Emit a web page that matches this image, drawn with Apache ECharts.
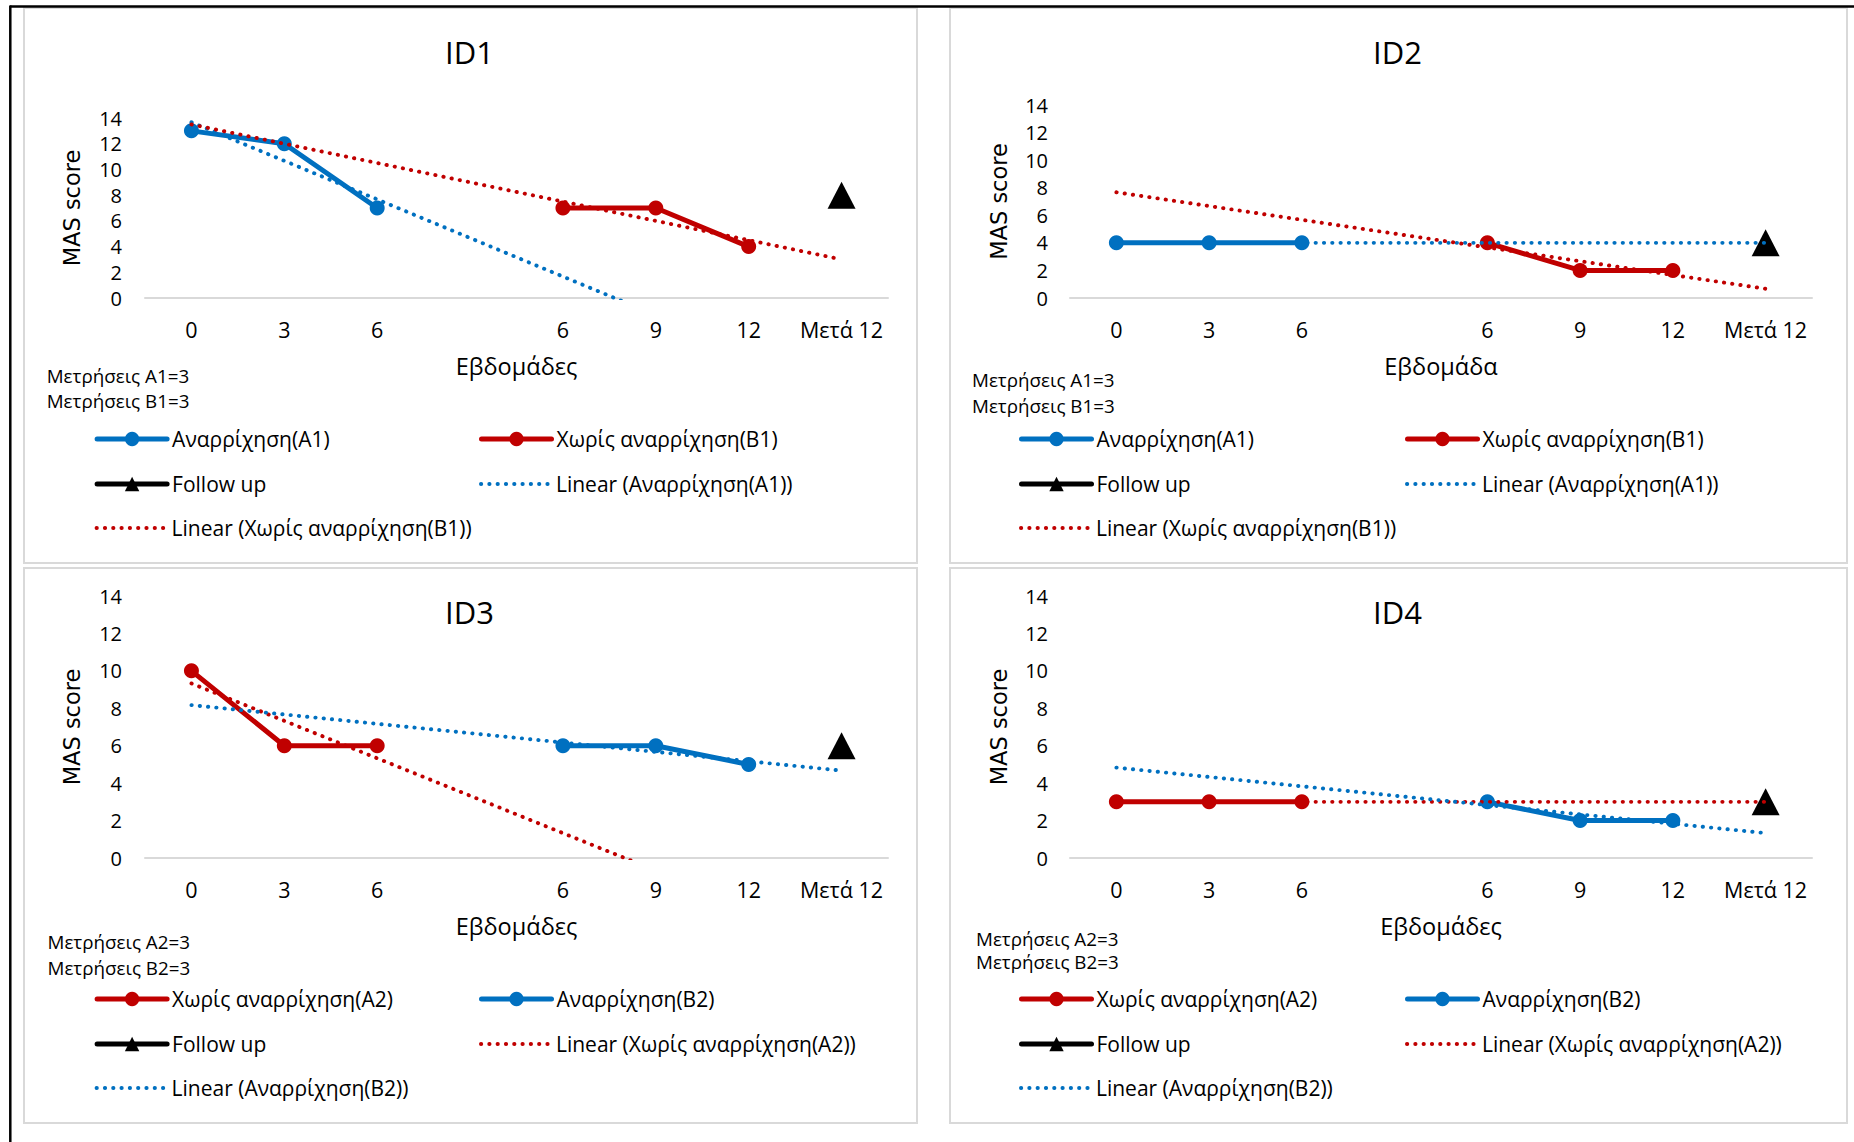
<!DOCTYPE html>
<html><head><meta charset="utf-8">
<script src="https://cdn.jsdelivr.net/npm/echarts@6/dist/echarts.min.js"></script>
<style>html,body{margin:0;padding:0;background:#fff}#c{width:1854px;height:1142px}</style>
</head><body><div id="c"></div><script>
// ---------- data ----------
const categories = ['0', '3', '6', '', '6', '9', '12', 'Μετά 12'];
const yMin = 0, yMax = 14, yInterval = 2;

// ID1
const id1A1 = [13, 12, 7, null, null, null, null, null];
const id1B1 = [null, null, null, null, 7, 7, 4, null];
const id1Follow = [null, null, null, null, null, null, null, 8];
const id1TrendA1 = [13.67, -7.33];   // trendline value at first / last category
const id1TrendB1 = [13.5, 3];

// ID2
const id2A1 = [4, 4, 4, null, null, null, null, null];
const id2B1 = [null, null, null, null, 4, 2, 2, null];
const id2Follow = [null, null, null, null, null, null, null, 4];
const id2TrendA1 = [4, 4];
const id2TrendB1 = [7.67, 0.67];

// ID3
const id3A2 = [10, 6, 6, null, null, null, null, null];
const id3B2 = [null, null, null, null, 6, 6, 5, null];
const id3Follow = [null, null, null, null, null, null, null, 6];
const id3TrendA2 = [9.33, -4.67];
const id3TrendB2 = [8.17, 4.67];

// ID4
const id4A2 = [3, 3, 3, null, null, null, null, null];
const id4B2 = [null, null, null, null, 3, 2, 2, null];
const id4Follow = [null, null, null, null, null, null, null, 3];
const id4TrendA2 = [3, 3];
const id4TrendB2 = [4.83, 1.33];

const titles = ['ID1', 'ID2', 'ID3', 'ID4'];
const xNames = ['Εβδομάδες', 'Εβδομάδα', 'Εβδομάδες', 'Εβδομάδες'];
const notes = [
  ['Μετρήσεις A1=3', 'Μετρήσεις B1=3'],
  ['Μετρήσεις A1=3', 'Μετρήσεις B1=3'],
  ['Μετρήσεις A2=3', 'Μετρήσεις B2=3'],
  ['Μετρήσεις A2=3', 'Μετρήσεις B2=3']
];

// ---------- styling / layout ----------
const BLUE = '#0070C0', RED = '#C00000', BLACK = '#000000';
const FONT = '"Open Sans", sans-serif';
const FONT_Y = '"DejaVu Sans", sans-serif';
const SOLID_W = 5, DOT_W = 3.9, DOT_DASH = [0.3, 8];

const panels = [
  { x: 24,  y: 8,   w: 893, h: 555, gl: 145,  gr: 888,  gt: 118, gb: 298, nameGap: 62 },
  { x: 950, y: 8,   w: 897, h: 555, gl: 1070, gr: 1812, gt: 105, gb: 298, nameGap: 60 },
  { x: 24,  y: 568, w: 893, h: 555, gl: 145,  gr: 888,  gt: 596, gb: 858, nameGap: 62 },
  { x: 950, y: 568, w: 897, h: 555, gl: 1070, gr: 1812, gt: 596, gb: 858, nameGap: 60 }
];
const W = 1854, H = 1142;

function ends(v) { return [v[0], null, null, null, null, null, null, v[1]]; }

function solid(name, data, color, i) {
  return { type: 'line', name, data, xAxisIndex: i, yAxisIndex: i, symbol: 'circle', symbolSize: 15,
    itemStyle: { color }, lineStyle: { color, width: SOLID_W }, connectNulls: false, z: 2, animation: false };
}
function follow(data, i) {
  return { type: 'line', name: 'Follow up', data, xAxisIndex: i, yAxisIndex: i, symbol: 'triangle',
    symbolSize: [28, 27], itemStyle: { color: BLACK }, lineStyle: { color: BLACK, width: SOLID_W }, z: 2, animation: false };
}
function trend(name, v, color, i) {
  return { type: 'line', name, data: ends(v), xAxisIndex: i, yAxisIndex: i, symbol: 'none', connectNulls: true,
    lineStyle: { color, width: DOT_W, type: DOT_DASH, cap: 'round' }, z: 3, clip: true, animation: false };
}

const series = [
  solid('Αναρρίχηση(A1)', id1A1, BLUE, 0),
  solid('Χωρίς αναρρίχηση(B1)', id1B1, RED, 0),
  follow(id1Follow, 0),
  trend('Linear (Αναρρίχηση(A1))', id1TrendA1, BLUE, 0),
  trend('Linear (Χωρίς αναρρίχηση(B1))', id1TrendB1, RED, 0),

  solid('Αναρρίχηση(A1)', id2A1, BLUE, 1),
  solid('Χωρίς αναρρίχηση(B1)', id2B1, RED, 1),
  follow(id2Follow, 1),
  trend('Linear (Αναρρίχηση(A1))', id2TrendA1, BLUE, 1),
  trend('Linear (Χωρίς αναρρίχηση(B1))', id2TrendB1, RED, 1),

  solid('Χωρίς αναρρίχηση(A2)', id3A2, RED, 2),
  solid('Αναρρίχηση(B2)', id3B2, BLUE, 2),
  follow(id3Follow, 2),
  trend('Linear (Χωρίς αναρρίχηση(A2))', id3TrendA2, RED, 2),
  trend('Linear (Αναρρίχηση(B2))', id3TrendB2, BLUE, 2),

  solid('Χωρίς αναρρίχηση(A2)', id4A2, RED, 3),
  solid('Αναρρίχηση(B2)', id4B2, BLUE, 3),
  follow(id4Follow, 3),
  trend('Linear (Χωρίς αναρρίχηση(A2))', id4TrendA2, RED, 3),
  trend('Linear (Αναρρίχηση(B2))', id4TrendB2, BLUE, 3)
];

const legendNames = [
  ['Αναρρίχηση(A1)', 'Χωρίς αναρρίχηση(B1)', 'Follow up', 'Linear (Αναρρίχηση(A1))', 'Linear (Χωρίς αναρρίχηση(B1))'],
  ['Αναρρίχηση(A1)', 'Χωρίς αναρρίχηση(B1)', 'Follow up', 'Linear (Αναρρίχηση(A1))', 'Linear (Χωρίς αναρρίχηση(B1))'],
  ['Χωρίς αναρρίχηση(A2)', 'Αναρρίχηση(B2)', 'Follow up', 'Linear (Χωρίς αναρρίχηση(A2))', 'Linear (Αναρρίχηση(B2))'],
  ['Χωρίς αναρρίχηση(A2)', 'Αναρρίχηση(B2)', 'Follow up', 'Linear (Χωρίς αναρρίχηση(A2))', 'Linear (Αναρρίχηση(B2))']
];
const legCol = [[70.6, 455], [69, 455], [70.6, 455], [69, 455]];
const legRow = [431, 476, 520];
const legSlots = [[0, 0], [1, 0], [0, 1], [1, 1], [0, 2]]; // [col,row]

const grids = [], xAxes = [], yAxes = [], legends = [], graphics = [];
panels.forEach((p, i) => {
  grids.push({ left: p.gl, top: p.gt, width: p.gr - p.gl, height: p.gb - p.gt, containLabel: false });
  xAxes.push({
    type: 'category', gridIndex: i, data: categories, boundaryGap: true,
    axisLine: { show: true, lineStyle: { color: '#d9d9d9', width: 2 } },
    axisTick: { show: false }, splitLine: { show: false },
    axisLabel: { interval: 0, margin: 20, fontSize: 21.5, fontFamily: FONT, color: '#000' },
    name: xNames[i], nameLocation: 'middle', nameGap: 56,
    nameTextStyle: { fontSize: 23.5, fontFamily: FONT, color: '#000' }
  });
  yAxes.push({
    type: 'value', gridIndex: i, min: yMin, max: yMax, interval: yInterval,
    axisLine: { show: false }, axisTick: { show: false }, splitLine: { show: false },
    axisLabel: { margin: i % 2 === 0 ? 23 : 22, fontSize: 20, fontFamily: FONT, color: '#000' },
    name: 'MAS score', nameLocation: 'middle', nameGap: p.nameGap,
    nameTextStyle: { fontSize: 22.5, fontFamily: FONT_Y, color: '#000' }
  });
  legendNames[i].forEach((nm, k) => {
    const [c, r] = legSlots[k];
    const isTrend = nm.indexOf('Linear') === 0;
    legends.push({
      data: [nm], left: p.x + legCol[i][c], top: p.y + legRow[r] - 10.5, padding: 0,
      itemWidth: 70, itemHeight: 18, selectedMode: false,
      itemStyle: isTrend ? { opacity: 0 } : {},
      lineStyle: isTrend ? { width: DOT_W, type: DOT_DASH, cap: 'round' } : { width: SOLID_W, cap: 'round' },
      textStyle: { fontSize: 21, fontFamily: FONT, color: '#000' }
    });
  });
  // panel border
  graphics.push({ type: 'rect', shape: { x: p.x, y: p.y, width: p.w, height: p.h },
    style: { fill: 'none', stroke: '#d9d9d9', lineWidth: 2 }, silent: true });
  // title
  graphics.push({ type: 'text', x: p.x + p.w / 2 - 1, y: p.y + 44,
    style: { text: titles[i], textAlign: 'center', textVerticalAlign: 'middle', fontSize: 31, fontFamily: FONT, fill: '#000' } });
});

const noteX = [46.7, 972, 47.5, 976];
const noteY = [[376, 401], [380, 406], [942, 968], [939, 962]];
notes.forEach((lines, i) => {
  lines.forEach((t, j) => {
    graphics.push({ type: 'text', x: noteX[i], y: noteY[i][j],
      style: { text: t, textAlign: 'left', textVerticalAlign: 'middle', fontSize: 18.8, fontFamily: FONT, fill: '#000' } });
  });
});
// outer black frame lines
graphics.push({ type: 'line', shape: { x1: 10, y1: 6.5, x2: W, y2: 6.5 }, style: { stroke: '#000', lineWidth: 2.5 }, silent: true });
graphics.push({ type: 'line', shape: { x1: 10.3, y1: 5.5, x2: 10.3, y2: H }, style: { stroke: '#000', lineWidth: 2.5 }, silent: true });

const chart = echarts.init(document.getElementById('c'), null, { renderer: 'svg', width: W, height: H });
chart.setOption({
  animation: false,
  backgroundColor: '#fff',
  grid: grids, xAxis: xAxes, yAxis: yAxes, legend: legends, series,
  graphic: graphics
});
</script></body></html>
